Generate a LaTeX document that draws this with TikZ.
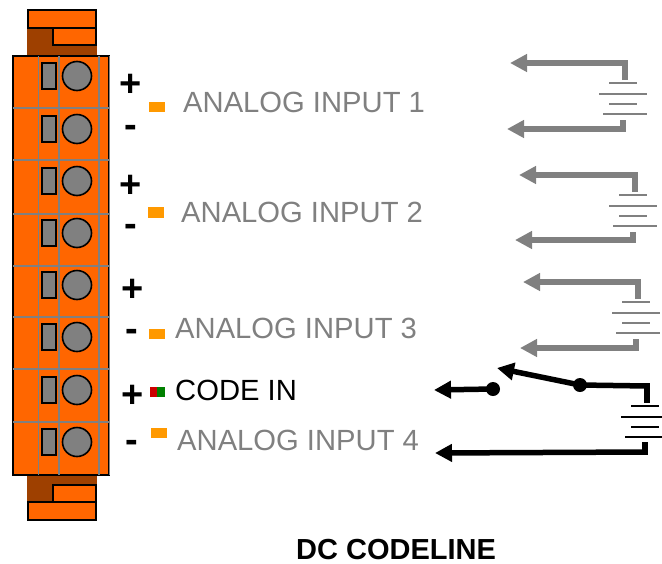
\documentclass[tikz,border=0pt]{standalone}
\usepackage{fontspec}
\setmainfont{Liberation Sans}
\usetikzlibrary{arrows.meta}
\definecolor{blockorange}{HTML}{FF6600}
\definecolor{blockbrown}{HTML}{9E4000}
\definecolor{ledorange}{HTML}{FF9900}
\definecolor{ledred}{HTML}{CC0000}
\definecolor{ledgreen}{HTML}{008000}
\definecolor{midgrey}{HTML}{808080}
\tikzset{
  x=1pt,y=-1pt,
  blockpart/.style={draw=black,line width=1.6pt,fill=blockorange},
  brownpart/.style={draw=none,fill=blockbrown},
  gridline/.style={draw=midgrey,line width=1.6pt},
  slotpart/.style={draw=black,line width=1.6pt,fill=midgrey},
  screwpart/.style={circle,draw=black,line width=1.6pt,fill=midgrey,minimum size=29pt,inner sep=0pt},
  pin/.style={font=\bfseries\fontsize{38}{38}\selectfont,inner sep=0pt},
  lab/.style={font=\fontsize{29.2}{29.2}\selectfont,inner sep=0pt,anchor=base west},
  led/.style={draw=none,fill=ledorange},
  wire/.style={line width=5.5pt,line join=miter,-{Triangle[length=17pt,width=17pt]}},
  stub/.style={line width=5.5pt},
  plate/.style={line width=1.8pt},
  dot/.style={circle,fill=black,minimum size=14pt,inner sep=0pt},
}
\newcommand{\batterysym}[3]{%
  \begin{scope}[shift={(#1,#2)}]
    \draw[plate,#3] (609,83) -- (637,83);
    \draw[plate,#3] (599,94) -- (647,94);
    \draw[plate,#3] (609,104) -- (637,104);
    \draw[plate,#3] (603,114) -- (647,114);
  \end{scope}}
\begin{document}
\begin{tikzpicture}
\useasboundingbox (0,0) rectangle (662,563);
% top plug
\fill[brownpart] (27,28) rectangle (97,56);
\draw[blockpart] (28,10) rectangle (96,28);
\draw[blockpart] (53,28) rectangle (96,45);
% bottom plug
\fill[brownpart] (27,475) rectangle (97,503);
\draw[blockpart] (53,485) rectangle (96,502);
\draw[blockpart] (28,502) rectangle (96,520);
% body
\draw[blockpart] (13,56) rectangle (109,475);
\foreach \x in {38.5,59,99} \draw[gridline] (\x,56) -- (\x,475);
\foreach \y in {108,160,214,266,317,369,422} \draw[gridline] (13,\y) -- (109,\y);
\draw[gridline] (109.5,56) -- (109.5,475);
% terminals
\foreach \i/\y in {1/76,2/129,3/181,4/233,5/285,6/337,7/390,8/442} {
  \draw[slotpart] (42,\y-13) rectangle (56,\y+13);
  \node[screwpart] (screw\i) at (77,\y) {};
}
% pin signs
\node[pin] (p1) at (131,85) {+};
\node[pin] (m1) at (131,131) {-};
\node[pin] (p2) at (131,186) {+};
\node[pin] (m2) at (131,230) {-};
\node[pin] (p3) at (133,290) {+};
\node[pin] (m3) at (132,335) {-};
\node[pin] (p4) at (133,396) {+};
\node[pin] (m4) at (132,446) {-};
% leds
\fill[led] (149,102) rectangle (165,112);
\fill[led] (148,207) rectangle (164,218);
\fill[led] (149,329) rectangle (165,339);
\fill[ledred] (150,387) rectangle (157,397);
\fill[ledgreen] (157,387) rectangle (165,397);
\fill[led] (151,428) rectangle (167,438);
% labels
\node[lab,text=midgrey] (a1) at (183,112) {ANALOG INPUT 1};
\node[lab,text=midgrey] (a2) at (181,222) {ANALOG INPUT 2};
\node[lab,text=midgrey] (a3) at (175,338) {ANALOG INPUT 3};
\node[lab] (ci) at (175,400) {CODE IN};
\node[lab,text=midgrey] (a4) at (177,450) {ANALOG INPUT 4};
\node[lab,font=\bfseries\fontsize{29}{29}\selectfont] (title) at (296,559.5) {DC CODELINE};
% batteries 1-3
\batterysym{0}{0}{midgrey}
\coordinate (t1) at (510,63); \coordinate (u1) at (625,63); \coordinate (v1) at (625,80);
\coordinate (t2) at (507,129); \coordinate (w2) at (623,129); \coordinate (x2) at (623,120);
\draw[stub,midgrey] (v1) -- (u1);
\draw[wire,midgrey] (u1) ++(2.75,0) -- (t1);
\draw[stub,midgrey] (x2) -- (w2);
\draw[wire,midgrey] (w2) ++(2.75,0) -- (t2);

\batterysym{10}{112}{midgrey}
\coordinate (t3) at (519,175); \coordinate (u3) at (635,175); \coordinate (v3) at (635,192);
\coordinate (t4) at (515,240); \coordinate (w4) at (633,240); \coordinate (x4) at (633,232);
\draw[stub,midgrey] (v3) -- (u3);
\draw[wire,midgrey] (u3) ++(2.75,0) -- (t3);
\draw[stub,midgrey] (x4) -- (w4);
\draw[wire,midgrey] (w4) ++(2.75,0) -- (t4);

\batterysym{13}{219}{midgrey}
\coordinate (t5) at (523,282); \coordinate (u5) at (638,282); \coordinate (v5) at (638,299);
\coordinate (t6) at (520,348); \coordinate (w6) at (636,348); \coordinate (x6) at (636,339);
\draw[stub,midgrey] (v5) -- (u5);
\draw[wire,midgrey] (u5) ++(2.75,0) -- (t5);
\draw[stub,midgrey] (x6) -- (w6);
\draw[wire,midgrey] (w6) ++(2.75,0) -- (t6);

% code line
\batterysym{22}{323}{black}
\node[dot] (d1) at (493,389) {};
\node[dot] (d2) at (580,385) {};
\coordinate (t7) at (434,390);
\coordinate (t8) at (497,368);
\coordinate (u7) at (647,386); \coordinate (v7) at (647,403);
\coordinate (t9) at (435,453); \coordinate (w9) at (645,452); \coordinate (x9) at (645,442);
\draw[wire,black] (d1.center) -- (t7);
\draw[wire,black] (d2.center) -- (t8);
\draw[stub,black] (d2.center) -- (u7);
\draw[stub,black] (u7) ++(0,-2.75) -- (v7);
\draw[stub,black] (x9) -- (w9);
\draw[wire,black] (w9) ++(2.75,0) -- (t9);
\end{tikzpicture}
\end{document}
